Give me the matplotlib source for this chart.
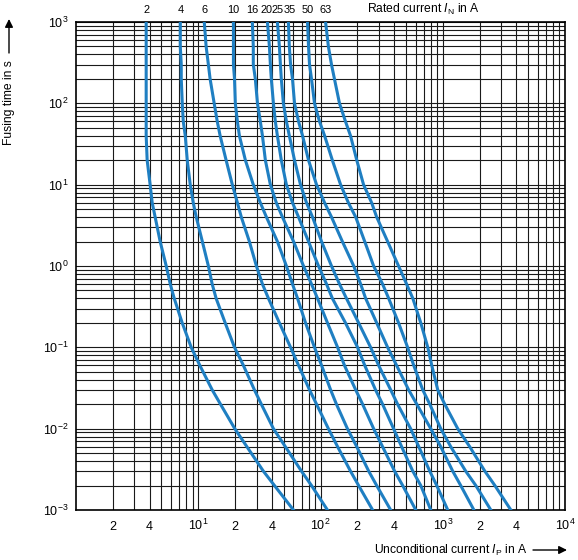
import matplotlib
matplotlib.use('Agg')
import matplotlib.pyplot as plt
from matplotlib import font_manager
from matplotlib.ticker import LogLocator, NullFormatter
from matplotlib.transforms import blended_transform_factory, ScaledTranslation

# ---------------- data ----------------
ratings = ['2', '4', '6', '10', '16', '20', '25', '35', '50', '63']
# fusing time (s) at which the currents below were read
times = [1000, 500, 300, 200, 100, 60, 40, 20, 10, 6, 4, 2, 1,
         0.6, 0.4, 0.2, 0.1, 0.06, 0.03, 0.02, 0.01, 0.006, 0.003, 0.002, 0.001]

# unconditional current (A) of each fuse at those times
i_2a = [3.75, 3.75, 3.75, 3.75, 3.75, 3.75, 3.75, 3.82, 4.04, 4.20, 4.44, 4.88, 5.47,
        5.90, 6.36, 7.39, 8.76, 10.3, 13.0, 15.2, 19.9, 25.0, 34.1, 42.0, 60.1]
i_4a = [7.13, 7.13, 7.26, 7.26, 7.40, 7.54, 7.83, 8.13, 8.60, 9.10, 9.63, 10.8, 12.1,
        13.0, 14.0, 16.6, 19.8, 23.4, 28.8, 32.8, 41.2, 51.6, 69.9, 84.4, 114]
i_6a = [11.2, 11.6, 12.1, 12.5, 13.5, 14.3, 15.1, 16.9, 19.0, 20.9, 22.5, 26.2, 29.9,
        33.5, 37.5, 46.1, 56.9, 66.1, 81.3, 92.8, 116, 138, 176, 205, 267]
i_10a = [19.4, 19.4, 19.4, 19.8, 20.1, 20.9, 21.7, 24.3, 28.2, 32.2, 36.1, 44.4, 52.6,
         59.0, 64.9, 75.4, 89.3, 102, 121, 135, 166, 198, 248, 288, 375]
i_16a = [27.7, 28.2, 28.2, 29.3, 30.5, 32.2, 33.5, 35.4, 38.9, 43.5, 48.8, 60.2, 72.6,
         84.4, 94.5, 114, 138, 157, 194, 221, 272, 322, 404, 470, 602]
i_20a = [36.8, 38.2, 38.9, 39.6, 41.2, 42.7, 44.4, 47.8, 52.6, 59.0, 66.1, 79.8, 96.3,
         112, 125, 160, 201, 230, 282, 322, 396, 461, 569, 661, 798]
i_25a = [44.4, 46.1, 47.0, 47.8, 49.7, 52.6, 55.6, 61.3, 68.6, 76.8, 86.0, 102, 123,
         143, 163, 205, 257, 299, 375, 427, 546, 637, 783, 893, 1099]
i_35a = [54.6, 55.6, 56.9, 59.0, 61.3, 66.1, 71.3, 79.8, 92.8, 108, 123, 151, 187,
         213, 234, 288, 354, 419, 526, 613, 798, 963, 1207, 1403, 1798]
i_50a = [78.3, 79.8, 81.3, 84.4, 89.3, 98.1, 108, 125, 146, 169, 194, 230, 272,
         322, 361, 435, 516, 579, 686, 783, 963, 1163, 1542, 1864, 2474]
i_63a = [110, 116, 123, 130, 143, 160, 176, 198, 225, 262, 288, 354, 435,
         506, 569, 661, 754, 813, 910, 1038, 1326, 1662, 2211, 2669, 3607]

currents = [i_2a, i_4a, i_6a, i_10a, i_16a, i_20a, i_25a, i_35a, i_50a, i_63a]

x_ticks = [2, 4, 10, 20, 40, 100, 200, 400, 1000, 2000, 4000, 10000]
x_tick_labels = ['2', '4', '$10^{1}$', '2', '4', '$10^{2}$',
                 '2', '4', '$10^{3}$', '2', '4', '$10^{4}$']
y_ticks = [1e-3, 1e-2, 1e-1, 1e0, 1e1, 1e2, 1e3]
y_tick_labels = ['$10^{-3}$', '$10^{-2}$', '$10^{-1}$', '$10^{0}$',
                 '$10^{1}$', '$10^{2}$', '$10^{3}$']

# small horizontal nudges (pixels) for the crowded rating labels
label_nudge_px = [0, 0, 0, 0, 0, -1.2, 0, 1.2, 0, 0]

# ---------------- fonts ----------------
names = {f.name for f in font_manager.fontManager.ttflist}
main_font = 'Liberation Sans Narrow' if 'Liberation Sans Narrow' in names else 'Liberation Sans'
plt.rcParams['font.family'] = [main_font, 'DejaVu Sans']
plt.rcParams['mathtext.fontset'] = 'custom'
plt.rcParams['mathtext.rm'] = main_font
plt.rcParams['mathtext.it'] = main_font + ':italic'
plt.rcParams['mathtext.bf'] = main_font + ':bold'
plt.rcParams['axes.unicode_minus'] = True

FS = 9
BLUE = '#1f7fc2'
W, H = 578, 560

fig = plt.figure(figsize=(W / 100, H / 100), dpi=100)
ax = fig.add_axes([76 / W, (H - 510) / H, (565 - 76) / W, (510 - 22) / H])
ax.set_xscale('log')
ax.set_yscale('log')
ax.set_xlim(1, 1e4)
ax.set_ylim(1e-3, 1e3)

for cur in currents:
    ax.plot(cur, times, color=BLUE, lw=2.2, zorder=3, solid_joinstyle='round')

# curve labels above the frame
trans = blended_transform_factory(ax.transData, ax.transAxes)
for cur, lab, dx in zip(currents, ratings, label_nudge_px):
    tr = trans + ScaledTranslation(dx / 100, 0, fig.dpi_scale_trans)
    ax.text(cur[0], 1 + 12 / 488, lab, transform=tr, ha='center', va='center',
            fontsize=7.9)

# ticks & grid
ax.set_xticks(x_ticks, x_tick_labels)
ax.set_yticks(y_ticks, y_tick_labels)
ax.xaxis.set_minor_locator(LogLocator(base=10, subs=range(2, 10), numticks=50))
ax.yaxis.set_minor_locator(LogLocator(base=10, subs=range(2, 10), numticks=50))
ax.xaxis.set_minor_formatter(NullFormatter())
ax.yaxis.set_minor_formatter(NullFormatter())
ax.tick_params(which='both', length=0, labelsize=FS)
ax.tick_params(axis='x', pad=14.4)
ax.tick_params(axis='y', pad=5.5)
for t in ax.xaxis.get_major_ticks():
    t.label1.set_verticalalignment('baseline')
ax.grid(True, which='both', color='#1a1a1a', lw=0.8)
ax.set_axisbelow(True)
for s in ax.spines.values():
    s.set_linewidth(1.2)
    s.set_color('black')

# axis titles with arrows
TFS = 8.7
fig.text(9 / W, 457 / H, 'Fusing time in s', rotation=90, ha='center', va='center',
         fontsize=TFS)
ax.annotate('', xy=(9, 541), xycoords='figure pixels', xytext=(9, 507),
            textcoords='figure pixels',
            arrowprops=dict(arrowstyle='-|>', color='black', lw=1.0, mutation_scale=12,
                            shrinkA=0, shrinkB=0))
fig.text(374 / W, 10 / H, r'Unconditional current $I_\mathrm{P}$ in A', ha='left',
         va='center', fontsize=TFS)
ax.annotate('', xy=(567, 10), xycoords='figure pixels', xytext=(533, 10),
            textcoords='figure pixels',
            arrowprops=dict(arrowstyle='-|>', color='black', lw=1.0, mutation_scale=12,
                            shrinkA=0, shrinkB=0))
fig.text(367 / W, 551 / H, r'Rated current $I_\mathrm{N}$ in A', ha='left', va='center',
         fontsize=TFS)

fig.savefig('out.png', dpi=100)
